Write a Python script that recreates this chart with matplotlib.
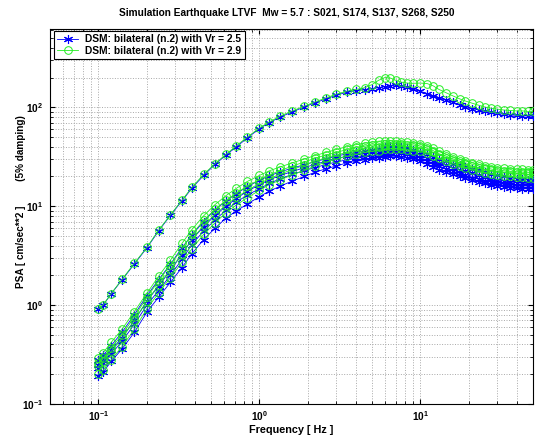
import numpy as np
import matplotlib
matplotlib.use("Agg")
import matplotlib.pyplot as plt

plt.rcParams['font.family'] = ['Liberation Sans', 'DejaVu Sans']
plt.rcParams['font.weight'] = 'bold'
plt.rcParams['mathtext.default'] = 'regular'

# frequencies (Hz)
freq = [0.1, 0.107, 0.12, 0.14, 0.167, 0.2, 0.236, 0.28, 0.33, 0.38,
        0.45, 0.53, 0.62, 0.72, 0.84, 1.0, 1.15, 1.35, 1.6, 1.9,
        2.2, 2.6, 3.0, 3.5, 4.0, 4.5, 5.0, 5.5, 6.0, 6.5,
        7.0, 7.6, 8.3, 9.0, 10, 11, 12, 13, 14.5, 16,
        17.5, 19, 21, 23, 25, 27.5, 30, 33, 36, 39.5,
        43, 46.5, 50]

# Vr = 2.5 (blue)
vr25 = [
    [0.91, 1.0, 1.3, 1.8, 2.6, 3.8, 5.6, 8.1, 11.3, 15.2,
     20.5, 26.5, 33, 40, 49, 61, 70, 80, 90, 101,
     111, 122, 133, 142, 148, 151, 155, 158, 162, 166,
     168, 165, 160, 153, 145, 138, 131, 125, 118, 112,
     106, 102, 97, 94, 91, 89, 87, 85, 84, 83,
     82, 82, 81],
    [0.28, 0.31, 0.39, 0.53, 0.80, 1.25, 1.8, 2.6, 3.8, 5.1,
     7.0, 9.2, 11.3, 13.4, 15.8, 18.3, 20.3, 22.3, 24.3, 26.3,
     28.2, 30.2, 32, 34, 35, 36, 37, 38, 39.5, 40.5,
     41, 40, 38.5, 37, 35.5, 33.5, 31.5, 30, 28.5, 27,
     26, 25, 24, 23, 22, 21.2, 20.5, 20, 19.5, 19,
     18.8, 18.6, 18.5],
    [0.25, 0.28, 0.35, 0.47, 0.70, 1.1, 1.55, 2.25, 3.25, 4.6,
     6.2, 8.1, 10, 12, 14.2, 16.5, 18.5, 20.5, 22.5, 24.5,
     26.5, 28.5, 30.5, 32, 33, 34, 35, 35.5, 36.5, 37,
     37, 36.5, 35.5, 34.5, 33, 31, 29, 27.5, 26, 24.5,
     23.5, 22.5, 21.5, 20.5, 19.8, 19, 18.5, 18, 17.6, 17.3,
     17.1, 17, 17],
    [0.23, 0.26, 0.32, 0.43, 0.64, 1.0, 1.4, 2.0, 2.9, 4.1,
     5.6, 7.3, 9.1, 11, 13, 15, 17, 19, 21, 23,
     24.5, 26.5, 28, 29.5, 30.5, 31.5, 32.5, 33, 34, 34.5,
     35, 34.5, 33.5, 32.5, 31, 29, 27, 25.5, 24, 22.5,
     21.5, 20.5, 19.5, 18.8, 18.2, 17.5, 17, 16.7, 16.4, 16.2,
     16.1, 16, 16],
    [0.19, 0.21, 0.27, 0.36, 0.53, 0.85, 1.2, 1.7, 2.4, 3.3,
     4.6, 6.0, 7.6, 9.0, 10.5, 12.5, 14.2, 16, 18, 20,
     22, 24, 25.5, 27.5, 28.5, 29.5, 30.5, 31, 31.5, 32,
     32, 31.5, 31, 30, 29, 27, 25, 23.5, 22, 21,
     20, 19.2, 18.3, 17.6, 17, 16.5, 16, 15.7, 15.4, 15.2,
     15.1, 15, 15],
]

# Vr = 2.9 (green)
vr29 = [
    [0.92, 1.01, 1.31, 1.82, 2.65, 3.85, 5.7, 8.2, 11.5, 15.5,
     21, 27, 33.5, 41, 50, 62, 71, 82, 92, 103,
     113, 125, 136, 146, 152, 158, 170, 188, 200, 198,
     188, 180, 176, 175, 176, 174, 165, 152, 140, 130,
     122, 116, 110, 105, 101, 98, 96, 94, 93, 92,
     92, 91, 91],
    [0.29, 0.33, 0.42, 0.57, 0.86, 1.32, 1.95, 2.85, 4.2, 5.8,
     8.0, 10.4, 12.8, 15.2, 17.8, 20.5, 22.8, 25, 27.5, 30,
     32.5, 35, 37.5, 40, 42, 43.5, 44.5, 45.5, 46, 46,
     45.5, 45, 44.5, 44, 43, 41, 38.5, 36, 33.5, 31.5,
     30, 28.8, 27.5, 26.5, 25.8, 25, 24.5, 24.2, 24, 23.8,
     23.6, 23.5, 23.5],
    [0.26, 0.29, 0.37, 0.5, 0.76, 1.2, 1.75, 2.55, 3.7, 5.2,
     7.2, 9.3, 11.5, 13.6, 16, 18.5, 20.8, 23, 25.5, 28,
     30.5, 33, 35, 37.5, 39.5, 40.5, 41.5, 42, 42.5, 43,
     43, 42.5, 42, 41.5, 40.5, 38.5, 36.5, 34, 32, 30,
     28.5, 27.5, 26.5, 25.5, 24.5, 23.8, 23.2, 22.8, 22.5, 22.3,
     22.1, 22, 22],
    [0.24, 0.27, 0.34, 0.46, 0.7, 1.1, 1.6, 2.3, 3.3, 4.6,
     6.4, 8.3, 10.3, 12.3, 14.5, 17, 19, 21.2, 23.5, 26,
     28.5, 31, 33, 35, 37, 38.5, 39.5, 40, 40.5, 41,
     41, 40.5, 40, 39.5, 38.5, 37, 35, 33, 31, 29,
     27.5, 26.5, 25.5, 24.5, 23.7, 23, 22.4, 21.9, 21.5, 21.3,
     21.1, 21, 21],
    [0.2, 0.22, 0.28, 0.38, 0.57, 0.92, 1.32, 1.9, 2.7, 3.7,
     5.2, 6.8, 8.6, 10.3, 12.2, 14.5, 16.5, 18.5, 20.8, 23,
     25.5, 28, 30, 32, 33.5, 35, 36, 36.5, 37.5, 38,
     38, 37.5, 37, 36.5, 36, 34.5, 32.5, 30.5, 28.5, 27,
     25.5, 24.5, 23.5, 22.5, 21.8, 21.2, 20.7, 20.3, 20, 19.8,
     19.6, 19.5, 19.5],
]

labels = ['DSM: bilateral (n.2) with Vr = 2.5', 'DSM: bilateral (n.2) with Vr = 2.9']

def main():
    fig = plt.figure(figsize=(5.37, 4.38), dpi=100)
    ax = fig.add_axes([50/537, 34/438, 483/537, 375/438])

    # MATLAB-like asterisk marker
    star = (6, 2, 0)
    for i, y in enumerate(vr25):
        ax.plot(freq, y, '-', marker=star, color='#0000ff', lw=0.6, markersize=6.5, mew=0.8,
                label=labels[0] if i == 0 else None, zorder=3)
    for i, y in enumerate(vr29):
        ax.plot(freq, y, '-o', color='#22ee22', lw=0.6, markersize=5.5, mew=0.7,
                mfc='none', label=labels[1] if i == 0 else None, zorder=3)

    ax.set_xscale('log')
    ax.set_yscale('log')
    ax.set_xlim(0.05, 50)
    ax.set_ylim(0.1, 620)

    ax.grid(True, which='both', linestyle=':', color='#a8a8a8', lw=0.7)
    ax.tick_params(which='both', direction='in', top=True, right=True, labelsize=7.3)
    ax.tick_params(axis='x', pad=4)
    ax.tick_params(axis='y', pad=5)
    for s in ax.spines.values():
        s.set_linewidth(0.8)

    ax.set_title('Simulation Earthquake LTVF  Mw = 5.7 : S021, S174, S137, S268, S250',
                 fontsize=7.3, fontweight='bold', pad=9, x=0.49)
    ax.set_xlabel('Frequency [ Hz ]', fontsize=7.8, fontweight='bold', labelpad=1)
    ax.set_ylabel('PSA [ cm/sec**2 ]         (5% damping)', fontsize=7.2,
                  fontweight='bold')
    ax.yaxis.set_label_coords(-0.05, 0.54)

    leg = ax.legend(loc='upper left', bbox_to_anchor=(0.008, 0.995), fontsize=7.4,
                    fancybox=False, edgecolor='black', framealpha=1,
                    handlelength=2.0, handletextpad=0.7, borderpad=0.35,
                    labelspacing=0.1, borderaxespad=0.0)
    leg.get_frame().set_linewidth(0.8)

    fig.savefig('out.png', dpi=100)

main()
